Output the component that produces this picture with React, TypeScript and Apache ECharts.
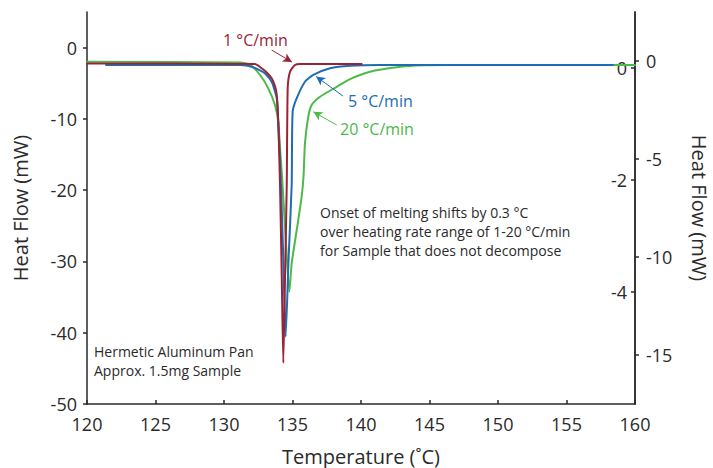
import React, { useEffect, useRef } from "react";
import * as echarts from "echarts";

// Temperature (°C) and heat flow (mW)
const redTemp = [120, 132.26, 132.75, 133.12, 133.48, 133.72, 133.85, 133.96, 134.09, 134.22, 134.33, 134.45, 134.58, 134.65, 134.82, 135.18, 135.55, 140.05];
const redFlow = [0.08, 0.071, -0.005, -0.08, -0.184, -0.32, -0.48, -0.96, -2.09, -3.79, -5.27, -3.79, -2.09, -0.36, -0.066, 0.054, 0.071, 0.071];

const blueTemp = [121.39, 131.17, 132.02, 132.99, 133.48, 133.85, 133.96, 134.16, 134.33, 134.5, 134.71, 134.94, 135.01, 135.31, 135.91, 136.52, 137.74, 139.2, 141.39, 158.39];
const blueFlow = [-0.2, -0.2, -0.29, -0.63, -1.06, -1.9, -3.1, -6.33, -10.15, -14.07, -10.15, -6.33, -2.59, -1.9, -1.06, -0.71, -0.37, -0.24, -0.2, -0.2];

const greenTemp = [120, 131.17, 131.9, 132.63, 133.23, 133.72, 133.96, 134.09, 134.26, 134.49, 134.77, 134.94, 135.31, 135.67, 135.81, 135.91, 136.15, 136.4, 137.01, 138.23, 139.2, 140.66, 142.61, 144.53, 146.5, 160];
const greenFlow = [-1.98, -2.09, -2.37, -3.84, -5.71, -8.05, -10.4, -14.09, -18.82, -26.29, -34.25, -30.27, -25.59, -20.92, -17.88, -13.39, -9.7, -8.05, -6.89, -5.49, -4.41, -3.38, -2.76, -2.48, -2.44, -2.44];

const xTicks = [120, 125, 130, 135, 140, 145, 150, 155, 160];
const leftTicks = [-50, -40, -30, -20, -10, 0];
const innerRightTicks = [0, -2, -4];
const outerRightTicks = [0, -5, -10, -15];

const RED = "#9a2436";
const BLUE = "#1d6db3";
const GREEN = "#4cba48";
const INK = "#2a2a2a";
const FONT = "Open Sans";

const pairs = (xs: number[], ys: number[]) => xs.map((x, i) => [x, ys[i]]);

export default function App() {
  const ref = useRef<HTMLDivElement>(null);
  useEffect(() => {
    if (!ref.current) return;
    const chart = echarts.init(ref.current, undefined, { renderer: "svg" });
    const axisLine = { show: true, onZero: false, lineStyle: { color: INK, width: 1.5 } };
    const label = { color: INK, fontSize: 18, fontFamily: FONT };
    const titleStyle = { color: INK, fontSize: 20, fontFamily: FONT };
    const arrow = (color: string, from: number[], to: number[]) => ({
      silent: true,
      symbol: ["none", "arrow"],
      symbolSize: [7, 9],
      label: { show: false },
      lineStyle: { color, width: 1, type: "solid" },
      data: [[{ coord: from }, { coord: to }]],
    });
    const lineSeries = (name: string, yAxisIndex: number, xs: number[], ys: number[], color: string, z: number, mark: any) => ({
      name,
      type: "line",
      yAxisIndex,
      data: pairs(xs, ys),
      showSymbol: false,
      smooth: 0.2,
      lineStyle: { color, width: 2, join: "round", cap: "round" },
      markLine: mark,
      z,
    });
    chart.setOption({
      animation: false,
      grid: { left: 87, right: 78, top: 12, bottom: 64, outerBoundsMode: "none", containLabel: false },
      xAxis: {
        type: "value",
        min: 120,
        max: 160,
        interval: 5,
        name: "Temperature (˚C)",
        nameLocation: "middle",
        nameGap: 42,
        nameTextStyle: titleStyle,
        axisLine,
        axisTick: { show: true, inside: true, length: 4, lineStyle: { color: INK, width: 1.5 }, customValues: xTicks },
        axisLabel: { ...label, margin: 11, customValues: xTicks },
        splitLine: { show: false },
      },
      yAxis: [
        {
          type: "value",
          position: "left",
          min: -50,
          max: 5,
          name: "Heat Flow (mW)",
          nameLocation: "middle",
          nameGap: 57,
          nameRotate: 90,
          nameTextStyle: titleStyle,
          axisLine,
          axisTick: { show: true, length: 4, lineStyle: { color: INK, width: 1.5 }, customValues: leftTicks },
          axisLabel: { ...label, margin: 10, customValues: leftTicks },
          splitLine: { show: false },
        },
        {
          type: "value",
          position: "right",
          min: -6,
          max: 1,
          axisLine,
          axisTick: { show: true, inside: true, length: 4, lineStyle: { color: INK, width: 1.5 }, customValues: innerRightTicks },
          axisLabel: { ...label, inside: true, margin: 8, customValues: innerRightTicks },
          splitLine: { show: false },
        },
        {
          type: "value",
          position: "right",
          min: -17.5,
          max: 2.5,
          name: "Heat Flow (mW)",
          nameLocation: "middle",
          nameGap: 54,
          nameRotate: -90,
          nameTextStyle: titleStyle,
          axisLine,
          axisTick: { show: true, length: 4, lineStyle: { color: INK, width: 1.5 }, customValues: outerRightTicks },
          axisLabel: { ...label, margin: 11, customValues: outerRightTicks },
          splitLine: { show: false },
        },
      ],
      series: [
        lineSeries("20 °C/min", 0, greenTemp, greenFlow, GREEN, 2, arrow(GREEN, [138.23, -10.86], [136.52, -9.0])),
        lineSeries("5 °C/min", 2, blueTemp, blueFlow, BLUE, 3, arrow(BLUE, [138.69, -1.79], [136.72, -0.79])),
        lineSeries("1 °C/min", 1, redTemp, redFlow, RED, 4, arrow(RED, [133.48, 0.32], [134.96, 0.107])),
      ],
      graphic: [
        { type: "text", left: 223, top: 32, style: { text: "1 °C/min", fill: RED, fontSize: 16, fontFamily: FONT } },
        { type: "text", left: 348, top: 93, style: { text: "5 °C/min", fill: BLUE, fontSize: 16, fontFamily: FONT } },
        { type: "text", left: 340, top: 121, style: { text: "20 °C/min", fill: GREEN, fontSize: 16, fontFamily: FONT } },
        {
          type: "text",
          left: 320,
          top: 203,
          style: {
            text: "Onset of melting shifts by 0.3 °C\nover heating rate range of 1-20 °C/min\nfor Sample that does not decompose",
            fill: INK,
            fontSize: 14,
            lineHeight: 19,
            fontFamily: FONT,
          },
        },
        {
          type: "text",
          left: 94,
          top: 342,
          style: {
            text: "Hermetic Aluminum Pan\nApprox. 1.5mg Sample",
            fill: INK,
            fontSize: 14,
            lineHeight: 19,
            fontFamily: FONT,
          },
        },
      ],
    });
    return () => chart.dispose();
  }, []);
  return (
    <div
      ref={ref}
      style={{ position: "fixed", left: 0, top: 0, width: 713, height: 468, background: "#fff" }}
    />
  );
}
